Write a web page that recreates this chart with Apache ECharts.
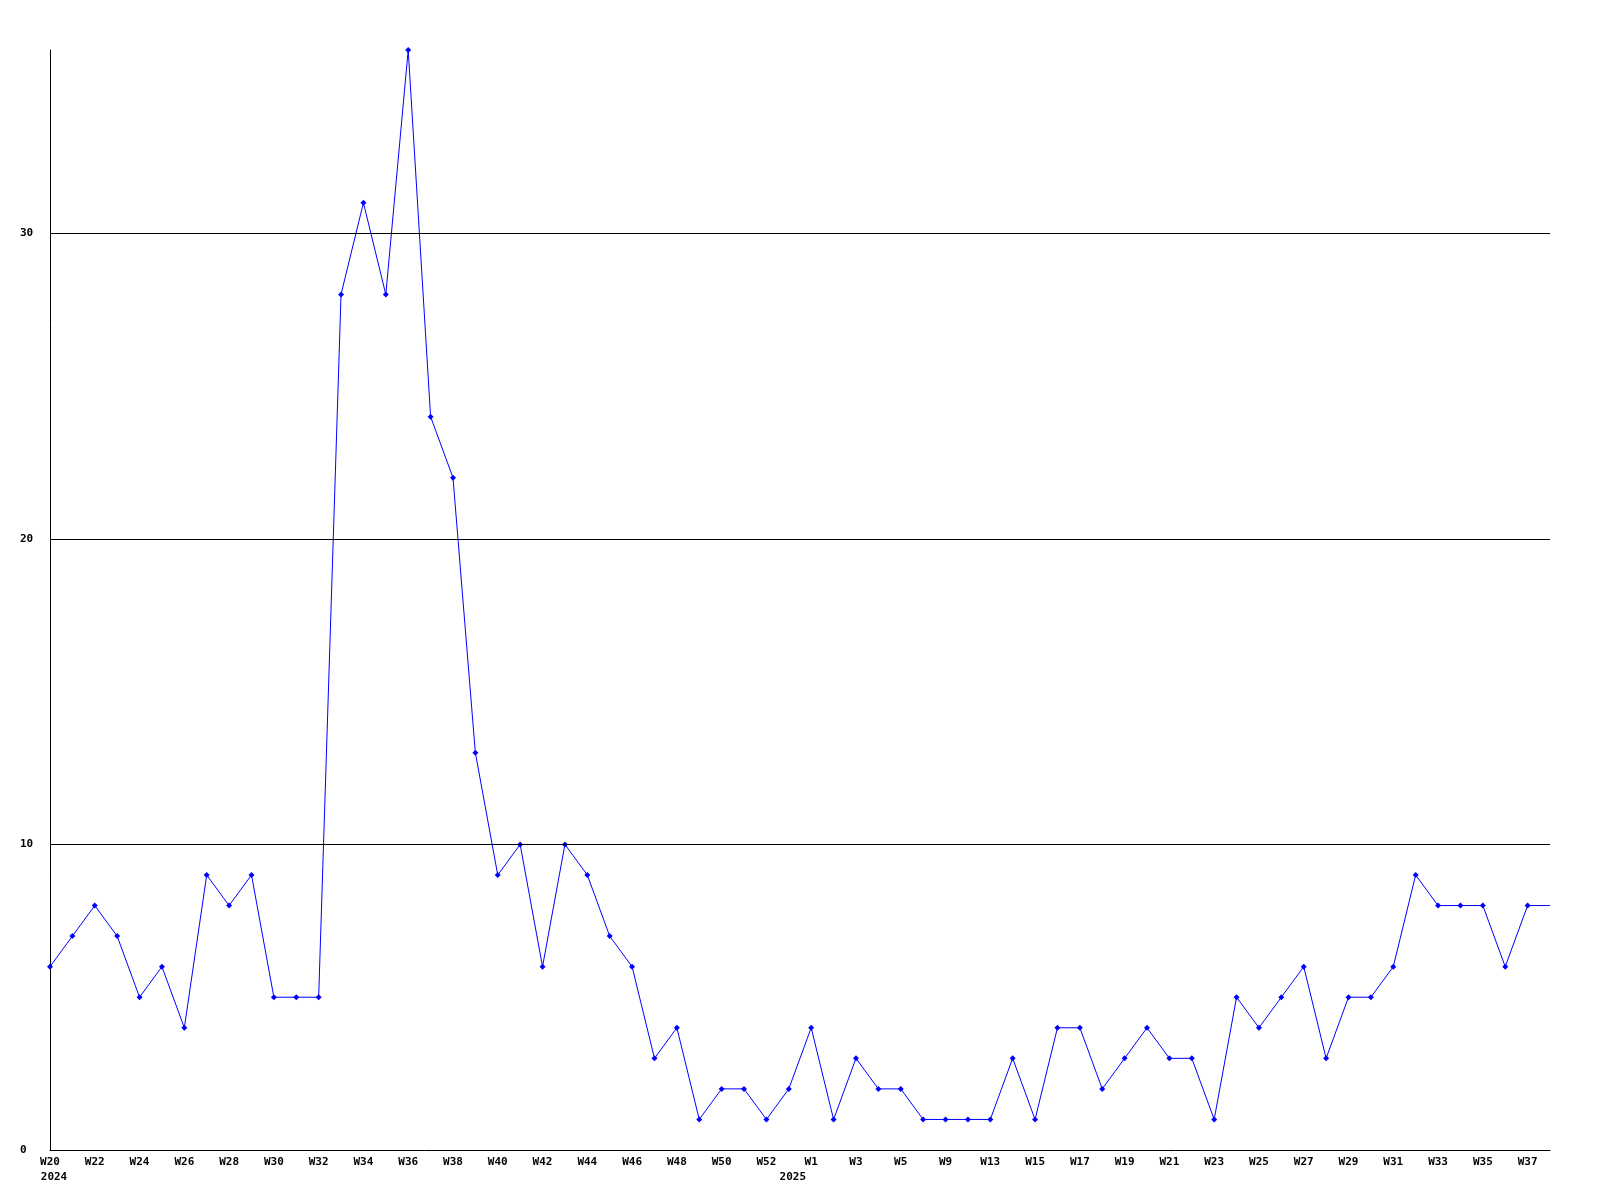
<!DOCTYPE html>
<html>
<head>
<meta charset="utf-8">
<script src="https://cdn.jsdelivr.net/npm/echarts@6/dist/echarts.min.js"></script>
<style>
html,body{margin:0;padding:0;background:#fff;}
#chart{width:1600px;height:1200px;}
</style>
</head>
<body>
<div id="chart"></div>
<script>
// Week categories (weeks with no data are absent)
var weeks = [
  'W20','W21','W22','W23','W24','W25','W26','W27','W28','W29','W30','W31','W32','W33','W34','W35','W36',
  'W37','W38','W39','W40','W41','W42','W43','W44','W45','W46','W47','W48','W49','W50','W51','W52',
  'W0','W1','W2','W3','W4','W5','W7','W9','W11','W13','W14','W15','W16','W17','W18','W19','W20',
  'W21','W22','W23','W24','W25','W26','W27','W28','W29','W30','W31','W32','W33','W34','W35','W36','W37','W38'
];
// Year label shown under the first week of each year (index -> year)
var yearStarts = {0: '2024', 33: '2025'};
var values = [
  6,7,8,7,5,6,4,9,8,9,5,5,5,28,31,28,36,
  24,22,13,9,10,6,10,9,7,6,3,4,1,2,2,1,
  2,4,1,3,2,2,1,1,1,1,3,1,4,4,2,3,4,
  3,3,1,5,4,5,6,3,5,5,6,9,8,8,8,6,8,8
];
var yTicks = [10, 20, 30];
var yMax = 36;

var chart = echarts.init(document.getElementById('chart'), null, {renderer: 'canvas'});
var fontFamily = '"DejaVu Sans Mono", "Liberation Mono", monospace';
var seriesData = values.map(function (v, i) {
  return i === values.length - 1 ? {value: v, symbol: 'none'} : v;
});
var labelFont = {
  color: '#000', fontFamily: fontFamily, fontWeight: 'bold', fontSize: 11, lineHeight: 15
};
chart.setOption({
  animation: false,
  backgroundColor: '#ffffff',
  grid: {left: 50, right: 50, top: 50, bottom: 50, containLabel: false},
  xAxis: {
    type: 'category',
    data: weeks,
    boundaryGap: false,
    axisLine: {show: true, lineStyle: {color: '#000', width: 1}},
    axisTick: {show: false},
    splitLine: {show: false},
    axisLabel: {
      interval: function (i) { return i % 2 === 0 || yearStarts[i] !== undefined; },
      margin: 5,
      color: '#000',
      fontFamily: fontFamily,
      fontWeight: 'bold',
      fontSize: 11,
      lineHeight: 15,
      rich: {
        wk: labelFont,
        yr: Object.assign({padding: [0, 0, 0, 8]}, labelFont)
      },
      formatter: function (val, i) {
        var top = (i % 2 === 0) ? '{wk|' + val + '}' : '{wk| }';
        return yearStarts[i] !== undefined ? top + '\n{yr|' + yearStarts[i] + '}' : top;
      }
    }
  },
  yAxis: {
    type: 'value',
    min: 0,
    max: yMax,
    interval: 10,
    axisLine: {show: true, lineStyle: {color: '#000', width: 1}},
    axisTick: {show: false},
    splitLine: {show: false},
    axisLabel: {
      margin: 30,
      align: 'left',
      color: '#000',
      fontFamily: fontFamily,
      fontWeight: 'bold',
      fontSize: 11,
      formatter: function (v) { return v === yMax ? '' : String(v); }
    }
  },
  series: [{
    type: 'line',
    data: seriesData,
    symbol: 'diamond',
    symbolSize: 6,
    showSymbol: true,
    itemStyle: {color: '#0000ff'},
    lineStyle: {color: '#0000ff', width: 1},
    markLine: {
      silent: true,
      symbol: ['none', 'none'],
      label: {show: false},
      lineStyle: {color: '#000', type: 'solid', width: 1},
      data: yTicks.map(function (t) { return {yAxis: t}; })
    },
    z: 3
  }]
});
</script>
</body>
</html>
